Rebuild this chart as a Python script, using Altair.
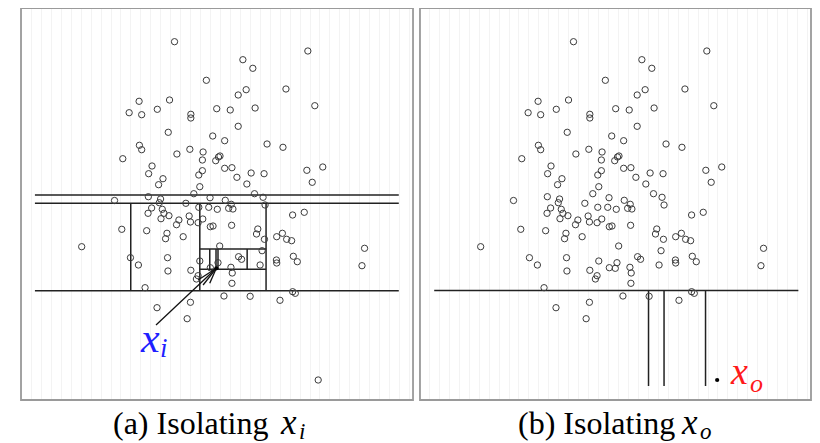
import altair as alt
import pandas as pd

# ---- data (panel-local units: x to the right, y upwards) ----
pts_x = [154.3, 186.3, 118.7, 149.3, 108.7, 121.3, 137.0, 170.7, 170.7, 196.7,
         148.0, 192.7, 119.0, 121.3, 169.7, 156.7, 183.0, 182.3, 195.7, 102.3,
         131.7, 128.3, 182.3, 178.7, 142.7, 138.3, 179.7, 173.7, 190.0, 128.0,
         140.3, 94.0, 288.3, 223.0, 233.0, 226.3, 218.3, 266.3, 210.3, 235.3,
         295.3, 218.3, 204.7, 247.3, 263.3, 200.0, 198.5, 204.7, 212.0, 217.0,
         231.3, 244.3, 227.0, 287.3, 303.3, 292.7, 234.7, 243.3, 205.3, 139.0,
         165.7, 131.3, 127.7, 142.0, 143.7, 148.7, 140.7, 178.7, 188.7, 197.3,
         169.0, 170.3, 158.7, 156.3, 178.0, 182.7, 190.3, 193.0, 101.3, 126.3,
         146.7, 145.3, 163.0, 61.0, 110.0, 118.0, 147.3, 147.7, 170.7, 179.7,
         178.0, 176.3, 124.7, 136.7, 170.3, 167.0, 211.3, 208.7, 213.0, 245.3,
         273.0, 284.7, 211.7, 238.0, 236.7, 244.7, 257.0, 262.7, 267.0, 272.0,
         345.3, 342.7, 242.3, 218.7, 221.7, 199.7, 198.0, 240.3, 256.7, 257.0,
         273.7, 277.7, 211.0, 212.3, 190.3, 212.0, 204.0, 230.3, 260.3, 273.0,
         275.7]
pts_y = [358.3, 319.7, 298.7, 300.0, 287.3, 285.3, 290.7, 285.7, 282.0, 291.3,
         267.7, 264.0, 254.7, 250.3, 250.7, 246.0, 248.0, 240.0, 239.3, 241.3,
         234.0, 226.3, 229.3, 225.0, 221.3, 215.3, 213.3, 206.3, 202.3, 203.3,
         201.0, 199.5, 349.0, 340.3, 331.7, 310.3, 305.0, 311.0, 290.0, 292.0,
         294.3, 273.7, 259.3, 256.0, 252.7, 244.0, 243.0, 231.7, 232.3, 222.7,
         227.0, 226.3, 216.0, 229.7, 233.0, 217.7, 206.3, 202.7, 199.7, 197.3,
         196.7, 192.0, 186.7, 190.7, 186.7, 184.3, 181.3, 192.7, 192.7, 190.7,
         184.0, 178.0, 180.0, 175.3, 177.3, 181.0, 173.3, 174.0, 170.7, 169.3,
         166.7, 161.3, 163.3, 153.3, 142.3, 135.0, 142.3, 129.0, 129.7, 139.0,
         124.3, 121.0, 112.3, 92.3, 97.7, 81.3, 195.7, 191.7, 191.0, 195.0,
         185.0, 187.7, 174.7, 171.0, 166.0, 160.7, 163.3, 166.7, 160.7, 159.3,
         151.7, 134.3, 149.3, 143.3, 140.7, 154.0, 137.3, 135.0, 140.0, 137.0,
         143.7, 138.3, 132.7, 127.0, 132.3, 116.7, 104.0, 103.7, 99.7, 108.3,
         106.7]

xi_x, xi_y = [196.3], [131.7]   # inlier x_i
xo_x, xo_y = [298.7], [20.0]    # outlier x_o

# partition segments, panel (a)
seg_a_x1 = [14.0, 14.0, 14.0, 110.3, 179.7, 246.3, 179.7, 179.7, 189.7, 227.3, 196.0, 198.0]
seg_a_x2 = [379.7, 379.7, 379.7, 110.3, 179.7, 246.3, 246.3, 246.3, 189.7, 227.3, 196.0, 198.0]
seg_a_y1 = [205.0, 196.7, 109.3, 196.7, 196.7, 196.7, 151.0, 130.7, 151.0, 151.0, 151.0, 151.0]
seg_a_y2 = [205.0, 196.7, 109.3, 109.3, 109.3, 109.3, 151.0, 130.7, 130.7, 130.7, 130.7, 130.7]

# arrow pointing at x_i, panel (a)
arr_x1 = [135.7, 178.0, 189.7, 183.0]
arr_y1 = [75.0, 120.0, 116.7, 115.0]

# partition segments, panel (b)
seg_b_x1 = [14.3, 229.7, 245.3, 287.0]
seg_b_x2 = [380.3, 229.7, 245.3, 287.0]
seg_b_y1 = [109.5, 109.5, 109.5, 109.5]
seg_b_y2 = [109.5, 14.0, 14.0, 14.0]

# panel frames
frame_x1 = [0, 401]
frame_x2 = [394, 794]
frame_y1 = [0, 0]
frame_y2 = [392, 392]

OFFSET_B = 401
DOMAIN_W = 794
PLOT_W = 790
PAD_L = 13

SERIF = "Liberation Serif, Times New Roman, Times, serif"

xs = alt.Scale(domain=[0, DOMAIN_W], nice=False, zero=False)
ys = alt.Scale(domain=[0, 392], nice=False, zero=False)
x_axis = alt.Axis(grid=True, gridColor="#f3f3f3", gridWidth=1, labels=False,
                  ticks=False, domain=False, title=None, tickCount=80)

pts_b_all = pd.DataFrame({"x": pts_x + xi_x, "y": pts_y + xi_y})
pts_a_all = pd.DataFrame({"x": pts_x + xo_x, "y": pts_y + xo_y})

frames = alt.Chart(pd.DataFrame({"x1": frame_x1, "x2": frame_x2,
                                 "y1": frame_y1, "y2": frame_y2})).mark_rect(
    fill="white", fillOpacity=0, stroke="#9a9a9a", strokeWidth=1.8
).encode(
    x=alt.X("x1:Q", scale=xs, axis=x_axis), x2="x2:Q",
    y=alt.Y("y1:Q", scale=ys, axis=None), y2="y2:Q",
)

circ_style = dict(shape="circle", filled=False, size=40, stroke="#3c3c3c",
                  strokeWidth=1.0, opacity=1)

circles_a = alt.Chart(pts_a_all).mark_point(**circ_style).encode(
    x=alt.X("x:Q", scale=xs), y=alt.Y("y:Q", scale=ys))

circles_b = alt.Chart(pts_b_all).transform_calculate(
    xb=f"datum.x + {OFFSET_B}"
).mark_point(**circ_style).encode(
    x=alt.X("xb:Q", scale=xs), y=alt.Y("y:Q", scale=ys))

dot_a = alt.Chart(pd.DataFrame({"x": xi_x, "y": xi_y})).mark_point(
    shape="circle", filled=True, size=18, color="black", opacity=1
).encode(x=alt.X("x:Q", scale=xs), y=alt.Y("y:Q", scale=ys))

dot_b = alt.Chart(pd.DataFrame({"x": xo_x, "y": xo_y})).transform_calculate(
    xb=f"datum.x + {OFFSET_B}"
).mark_point(shape="circle", filled=True, size=18, color="black", opacity=1
).encode(x=alt.X("xb:Q", scale=xs), y=alt.Y("y:Q", scale=ys))

seg_a = alt.Chart(pd.DataFrame({"x1": seg_a_x1, "x2": seg_a_x2,
                                "y1": seg_a_y1, "y2": seg_a_y2})).mark_rule(
    color="#222222", strokeWidth=1.5
).encode(x=alt.X("x1:Q", scale=xs), x2="x2:Q",
         y=alt.Y("y1:Q", scale=ys), y2="y2:Q")

arrow = alt.Chart(pd.DataFrame({"x1": arr_x1, "y1": arr_y1,
                                "x2": xi_x * len(arr_x1),
                                "y2": xi_y * len(arr_x1)})).mark_rule(
    color="#111111", strokeWidth=1.3
).encode(x=alt.X("x1:Q", scale=xs), x2="x2:Q",
         y=alt.Y("y1:Q", scale=ys), y2="y2:Q")

seg_b = alt.Chart(pd.DataFrame({"x1": seg_b_x1, "x2": seg_b_x2,
                                "y1": seg_b_y1, "y2": seg_b_y2})).transform_calculate(
    xa=f"datum.x1 + {OFFSET_B}", xc=f"datum.x2 + {OFFSET_B}"
).mark_rule(color="#222222", strokeWidth=1.5).encode(
    x=alt.X("xa:Q", scale=xs), x2="xc:Q",
    y=alt.Y("y1:Q", scale=ys), y2="y2:Q")


def txt(s, sx, sy, size, color="black", italic=False):
    # sx, sy: page position of the text anchor (left, baseline)
    return alt.Chart(pd.DataFrame({"t": [s]})).mark_text(
        align="left", baseline="alphabetic", font=SERIF,
        fontSize=size, fontStyle="italic" if italic else "normal",
        color=color, clip=False
    ).encode(text="t:N", x=alt.value(sx - 8 - PAD_L), y=alt.value(sy - 8))


labels = [
    txt("x", 141, 351.5, 42, "#1f1fff", True),
    txt("i", 160, 356.5, 27, "#1f1fff", True),
    txt("x", 731, 384, 38, "#ff1a1a", True),
    txt("o", 750, 392, 26, "#ff1a1a", True),
    txt("(a) Isolating", 113, 434, 32),
    txt("x", 281, 434, 35, italic=True),
    txt("i", 299, 439, 23, italic=True),
    txt("(b) Isolating", 518, 434, 32),
    txt("x", 682, 434, 35, italic=True),
    txt("o", 700, 439, 23, italic=True),
]

chart = alt.layer(frames, seg_a, seg_b, circles_a, circles_b, arrow, dot_a, dot_b,
                  *labels).properties(
    width=PLOT_W, height=392,
    padding={"left": PAD_L, "top": 0, "right": 1, "bottom": 43},
    autosize=alt.AutoSizeParams(type="none"),
).configure_view(stroke=None)

chart.save("out.html", embed_options={"renderer": "svg", "actions": False})
